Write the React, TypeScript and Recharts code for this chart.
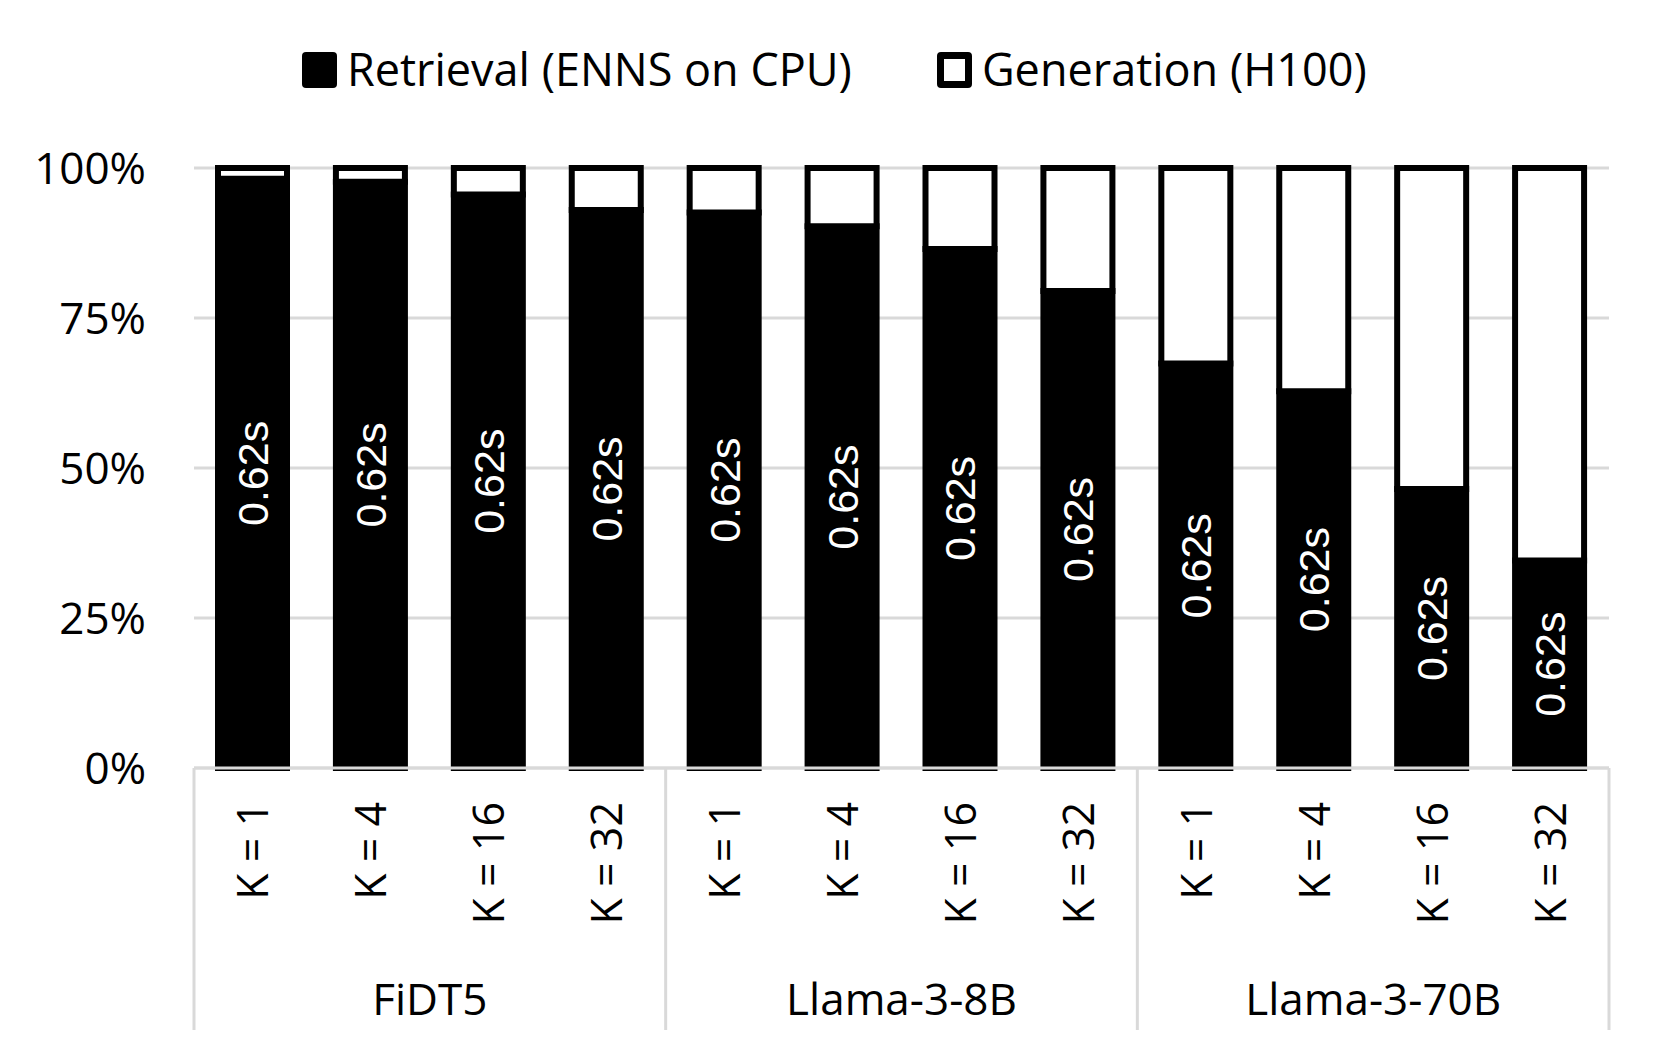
import { BarChart, Bar, XAxis, YAxis, CartesianGrid, Legend, LabelList } from 'recharts';

const models = ['FiDT5', 'Llama-3-8B', 'Llama-3-70B'];
const kLabels = ['K = 1', 'K = 4', 'K = 16', 'K = 32'];
// share of end-to-end time, in percent
const retrieval = [98.2, 97.7, 95.6, 93.0, 92.6, 90.3, 86.5, 79.5, 67.4, 62.8, 46.5, 34.6];
const generation = [1.8, 2.3, 4.4, 7.0, 7.4, 9.7, 13.5, 20.5, 32.6, 37.2, 53.5, 65.4];
const retrievalTime = ['0.62s', '0.62s', '0.62s', '0.62s', '0.62s', '0.62s', '0.62s', '0.62s', '0.62s', '0.62s', '0.62s', '0.62s'];
const yTicks = [0, 25, 50, 75, 100];

const data = retrieval.map((r, i) => ({
    k: kLabels[i % 4],
    model: models[Math.floor(i / 4)],
    retrieval: r,
    generation: generation[i],
    time: retrievalTime[i],
}));

const GRID = '#d9d9d9';
const SANS = '"Open Sans", sans-serif';

const XTick = (props: any) => {
    const { x, y, payload } = props;
    const i = payload.index ?? props.index;
    const half = payload.offset || 59;
    return (
        <g>
            <text
                transform={`translate(${x}, ${y + 34}) rotate(-90)`}
                textAnchor="end"
                dy="0.36em"
                fontSize={43}
                fontFamily={SANS}
                fill="#000"
            >
                {payload.value}
            </text>
            {i % 4 === 0 && <line x1={x - half} x2={x - half} y1={y} y2={y + 262} stroke={GRID} strokeWidth={3} />}
            {i === data.length - 1 && <line x1={x + half} x2={x + half} y1={y} y2={y + 262} stroke={GRID} strokeWidth={3} />}
            {i % 4 === 1 && (
                <text x={x + half} y={y + 247} textAnchor="middle" fontSize={44} fontFamily={SANS} fill="#000">
                    {data[i].model}
                </text>
            )}
        </g>
    );
};

const TimeLabel = (props: any) => {
    const vb = props.viewBox || props;
    const cx = vb.x + vb.width / 2;
    const cy = vb.y + vb.height / 2;
    return (
        <text
            transform={`translate(${cx}, ${cy}) rotate(-90)`}
            textAnchor="middle"
            dy="0.36em"
            fontSize={43}
            fontFamily='"Liberation Sans", Arial, sans-serif'
            fill="#fff"
        >
            {props.value}
        </text>
    );
};

const LegendBox = () => (
    <div style={{ display: 'flex', alignItems: 'center', height: 40, paddingLeft: 302, fontFamily: SANS, fontSize: 45, lineHeight: 1 }}>
        <span style={{ width: 35, height: 36, background: '#000', borderRadius: 4, display: 'inline-block' }} />
        <span style={{ marginLeft: 10, position: 'relative', top: -2 }}>Retrieval (ENNS on CPU)</span>
        <span style={{ width: 35, height: 36, background: '#fff', border: '7px solid #000', boxSizing: 'border-box', borderRadius: 4, display: 'inline-block', marginLeft: 85 }} />
        <span style={{ marginLeft: 10, position: 'relative', top: -2 }}>Generation (H100)</span>
    </div>
);

export default function App() {
    return (
        <div style={{ position: 'absolute', left: 0, top: 0, background: '#fff' }}>
            <BarChart
                width={1661}
                height={1057}
                data={data}
                margin={{ top: 168, right: 52, left: 44, bottom: 29 }}
                barSize={69}
            >
                <CartesianGrid vertical={false} stroke={GRID} strokeWidth={3} />
                <XAxis
                    dataKey="k"
                    height={260}
                    interval={0}
                    tickLine={false}
                    tickSize={0}
                    tickMargin={0}
                    axisLine={{ stroke: GRID, strokeWidth: 3 }}
                    tick={<XTick />}
                />
                <YAxis
                    width={150}
                    domain={[0, 100]}
                    ticks={yTicks}
                    tickFormatter={(v: number) => `${v}%`}
                    axisLine={false}
                    tickLine={false}
                    tickSize={0}
                    tickMargin={48}
                    tick={{ fontSize: 44, fontFamily: SANS, fill: '#000' }}
                />
                <Legend
                    layout="horizontal"
                    verticalAlign="middle"
                    wrapperStyle={{ top: 50, left: 0, width: 1661 }}
                    content={<LegendBox />}
                />
                <Bar dataKey="retrieval" name="Retrieval (ENNS on CPU)" stackId="t" fill="#000" stroke="#000" strokeWidth={6} isAnimationActive={false}>
                    <LabelList dataKey="time" content={<TimeLabel />} />
                </Bar>
                <Bar dataKey="generation" name="Generation (H100)" stackId="t" fill="#fff" stroke="#000" strokeWidth={6} isAnimationActive={false} />
            </BarChart>
        </div>
    );
}
